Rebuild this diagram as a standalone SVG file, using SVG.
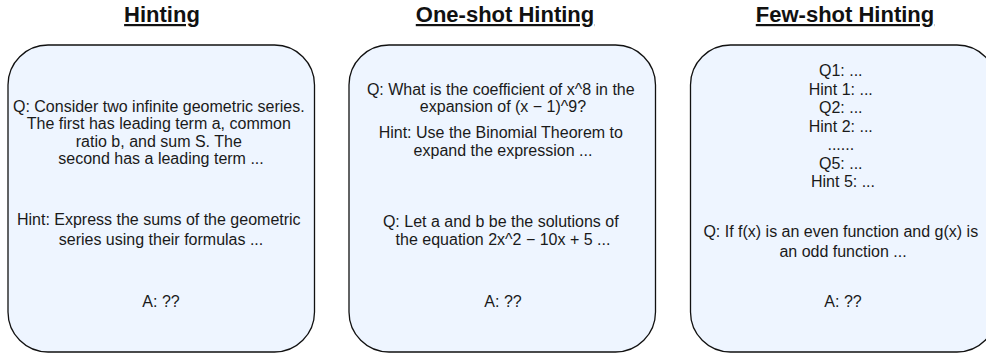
<svg xmlns="http://www.w3.org/2000/svg" width="986" height="356" viewBox="0 0 986 356">
  <style>
    .box { fill: #eef5ff; stroke: #111; stroke-width: 1.3; }
    .title { font-family: "Liberation Sans", Arial, sans-serif; font-size: 22px; font-weight: bold; fill: #111; text-anchor: middle; text-decoration: underline; }
    .t { font-family: "Liberation Sans", Arial, sans-serif; font-size: 16px; fill: #1a1a1a; text-anchor: middle; }
  </style>
  <rect width="986" height="356" fill="#ffffff"/>
  <g id="title-hinting"><text class="title" x="162" y="22">Hinting</text></g>
  <g id="title-oneshot"><text class="title" x="505" y="22">One-shot Hinting</text></g>
  <g id="title-fewshot"><text class="title" x="845" y="22">Few-shot Hinting</text></g>

  <g id="node-hinting">
    <rect class="box" x="8" y="45" width="306.5" height="307" rx="40" ry="40"/>
    <text class="t">
      <tspan x="161" y="111.5">Q: Consider two infinite geometric series.</tspan>
      <tspan x="161" y="129">The first has leading term a, common</tspan>
      <tspan x="161" y="146.5">ratio b, and sum S. The</tspan>
      <tspan x="161" y="164">second has a leading term ...</tspan>
    </text>
    <text class="t">
      <tspan x="161" y="224.5">Hint: Express the sums of the geometric</tspan>
      <tspan x="161" y="245">series using their formulas ...</tspan>
    </text>
    <text class="t" x="161" y="306.5">A: ??</text>
  </g>

  <g id="node-oneshot">
    <rect class="box" x="349" y="45" width="306.5" height="307" rx="40" ry="40"/>
    <text class="t">
      <tspan x="503" y="94.5">Q: What is the coefficient of x^8 in the</tspan>
      <tspan x="503" y="112">expansion of (x − 1)^9?</tspan>
    </text>
    <text class="t">
      <tspan x="503" y="138">Hint: Use the Binomial Theorem to</tspan>
      <tspan x="503" y="155.5">expand the expression ...</tspan>
    </text>
    <text class="t">
      <tspan x="503" y="227">Q: Let a and b be the solutions of</tspan>
      <tspan x="503" y="244.5">the equation 2x^2 − 10x + 5 ...</tspan>
    </text>
    <text class="t" x="503" y="306.5">A: ??</text>
  </g>

  <g id="node-fewshot">
    <rect class="box" x="690.5" y="45" width="306.5" height="307" rx="40" ry="40"/>
    <text class="t">
      <tspan x="843" y="76">Q1: ...</tspan>
      <tspan x="843" y="94.5">Hint 1: ...</tspan>
      <tspan x="843" y="113">Q2: ...</tspan>
      <tspan x="843" y="131.5">Hint 2: ...</tspan>
      <tspan x="843" y="150">......</tspan>
      <tspan x="843" y="168.5">Q5: ...</tspan>
      <tspan x="843" y="187">Hint 5: ...</tspan>
    </text>
    <text class="t">
      <tspan x="843" y="237">Q: If f(x) is an even function and g(x) is</tspan>
      <tspan x="843" y="256.5">an odd function ...</tspan>
    </text>
    <text class="t" x="843" y="306.5">A: ??</text>
  </g>
</svg>
